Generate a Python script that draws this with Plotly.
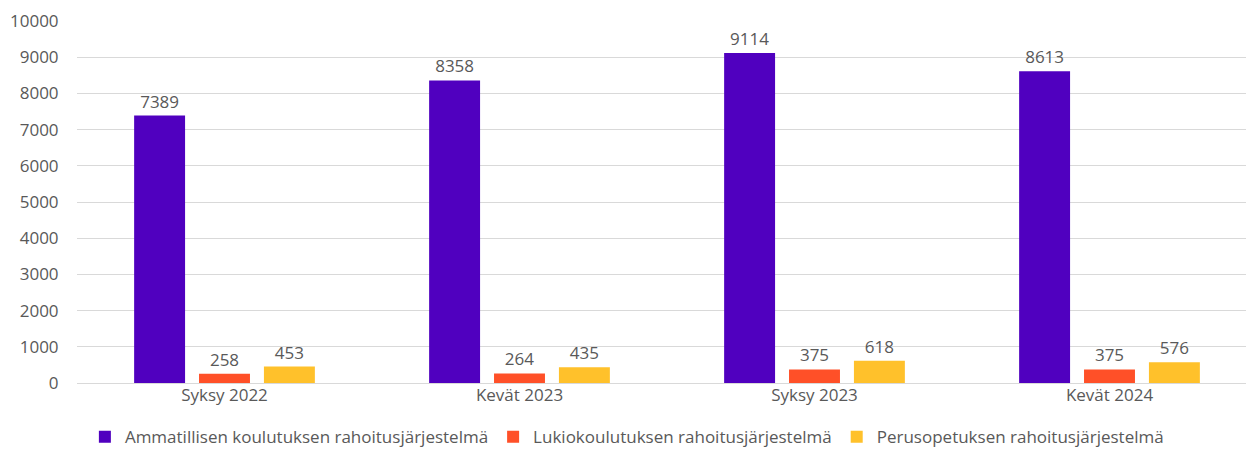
import plotly.graph_objects as go

categories = ["Syksy 2022", "Kevät 2023", "Syksy 2023", "Kevät 2024"]
series_names = [
    "Ammatillisen koulutuksen rahoitusjärjestelmä",
    "Lukiokoulutuksen rahoitusjärjestelmä",
    "Perusopetuksen rahoitusjärjestelmä",
]
ammatillinen = [7389, 8358, 9114, 8613]
lukio = [258, 264, 375, 375]
perusopetus = [453, 435, 618, 576]
colors = ["#5000BF", "#FF5028", "#FFC12B"]
y_ticks = list(range(0, 10001, 1000))

fig = go.Figure()
for name, vals, col in zip(series_names, [ammatillinen, lukio, perusopetus], colors):
    fig.add_trace(go.Bar(
        x=categories, y=vals, name=name, marker_color=col,
        marker_line_width=0,
        text=[str(v) for v in vals], textposition="outside",
        textfont=dict(size=17, color="#595959"), cliponaxis=False,
    ))

fig.update_layout(
    width=1254, height=452,
    margin=dict(l=69, r=5, t=13, b=77, autoexpand=False),
    paper_bgcolor="white", plot_bgcolor="white",
    barmode="group", bargap=0.34, bargroupgap=0.215,
    font=dict(family="Open Sans, sans-serif", size=17, color="#595959"),
    showlegend=True,
    legend=dict(orientation="h", x=0.466, xanchor="center", y=-0.15, yanchor="middle",
                font=dict(size=17, color="#595959"), itemwidth=30, tracegroupgap=0),
)
fig.update_xaxes(showgrid=False, showline=False, ticks="", tickfont=dict(size=17, color="#595959"))
fig.update_yaxes(range=[0, 10000], tickvals=y_ticks, ticktext=[str(v) for v in y_ticks],
                 showgrid=True, gridcolor="#D9D9D9",
                 gridwidth=1, zeroline=True, zerolinecolor="#D9D9D9", zerolinewidth=1,
                 ticks="outside", ticklen=14, tickcolor="white",
                 tickfont=dict(size=17, color="#595959"))

fig.write_html("out.html")
